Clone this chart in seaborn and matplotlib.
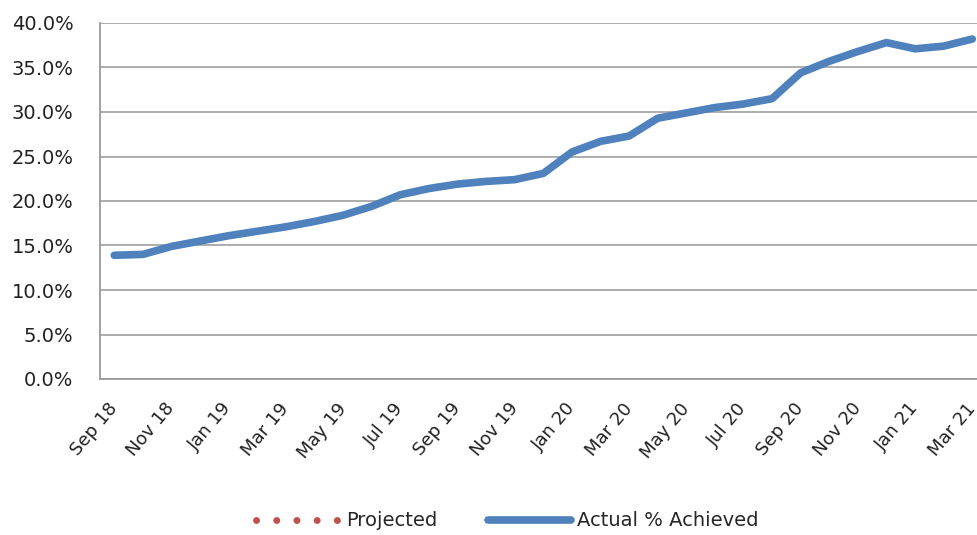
import numpy as np
import pandas as pd
import matplotlib
matplotlib.use("Agg")
import matplotlib.pyplot as plt
from matplotlib.ticker import PercentFormatter
import seaborn as sns

# monthly data Sep 18 -> Mar 21
months = ["Sep 18", "Oct 18", "Nov 18", "Dec 18", "Jan 19", "Feb 19", "Mar 19", "Apr 19",
          "May 19", "Jun 19", "Jul 19", "Aug 19", "Sep 19", "Oct 19", "Nov 19", "Dec 19",
          "Jan 20", "Feb 20", "Mar 20", "Apr 20", "May 20", "Jun 20", "Jul 20", "Aug 20",
          "Sep 20", "Oct 20", "Nov 20", "Dec 20", "Jan 21", "Feb 21", "Mar 21"]
actual = [13.9, 14.0, 14.9, 15.5, 16.1, 16.6, 17.1, 17.7, 18.4, 19.4, 20.7, 21.4, 21.9,
          22.2, 22.4, 23.1, 25.5, 26.7, 27.3, 29.3, 29.9, 30.5, 30.9, 31.5, 34.4, 35.7,
          36.8, 37.8, 37.1, 37.4, 38.2]
projected = [np.nan] * len(months)  # nothing plotted for projected

def main():
    df = pd.DataFrame({"month": months, "pos": range(len(months)),
                       "actual": np.array(actual) / 100,
                       "projected": np.array(projected) / 100})

    sns.set_style("white")
    plt.rcParams["font.family"] = ["DejaVu Sans"]

    fig = plt.figure(figsize=(9.78, 5.35), dpi=100)
    ax = fig.add_axes([100 / 978, 1 - 379 / 535, 1 - 100 / 978, (379 - 23) / 535])

    ax.plot(df["pos"], df["projected"], color="#C0504D", linewidth=5,
            linestyle=(0, (0.01, 2.9)), dash_capstyle="round", label="Projected")
    sns.lineplot(data=df, x="pos", y="actual", ax=ax, color="#4F81BD", linewidth=5.5,
                 solid_capstyle="round", solid_joinstyle="round", label="Actual % Achieved",
                 legend=False)

    ax.set_ylim(0, 0.4)
    ax.set_yticks(np.arange(0, 0.401, 0.05))
    ax.yaxis.set_major_formatter(PercentFormatter(1, decimals=1))
    ax.set_xlim(-0.5, 30.2)
    ax.set_xticks(np.arange(-0.5, 30, 2))
    ax.set_xticklabels([])
    ax.set_xticks(df["pos"][::2], minor=True)
    ax.set_xticklabels(df["month"][::2], minor=True, rotation=50, ha="right",
                       va="center", rotation_mode="anchor", fontsize=13, color="#222222")
    ax.tick_params(axis="x", which="minor", length=0, pad=19)
    ax.tick_params(axis="x", which="major", length=6, width=1.3, color="#9a9a9a", direction="out")
    ax.tick_params(axis="y", length=7, width=1.3, color="#9a9a9a", labelsize=14,
                   labelcolor="#222222", pad=12)
    ax.grid(axis="y", color="#a6a6a6", linewidth=1.3)
    ax.set_axisbelow(True)
    for side in ["top", "right"]:
        ax.spines[side].set_visible(False)
    for side in ["left", "bottom"]:
        ax.spines[side].set_color("#9a9a9a")
        ax.spines[side].set_linewidth(1.3)
    ax.set_xlabel("")
    ax.set_ylabel("")

    handles, labels = ax.get_legend_handles_labels()
    fig.legend(handles, labels, loc="center", bbox_to_anchor=(0.519, 1 - 521 / 535), ncol=2,
               frameon=False, fontsize=14, handlelength=4.3, handletextpad=0.3,
               columnspacing=2.6)

    fig.savefig("out.png", dpi=100)

if __name__ == "__main__":
    main()
